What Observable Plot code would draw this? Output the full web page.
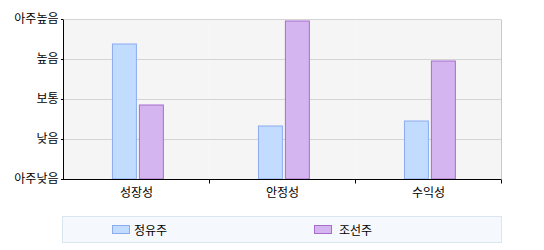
<!DOCTYPE html>
<html>
<head>
<meta charset="utf-8">
<script src="https://cdn.jsdelivr.net/npm/d3@7"></script>
<script src="https://cdn.jsdelivr.net/npm/@observablehq/plot@0.6"></script>
<style>
  html, body { margin: 0; padding: 0; background: #fff; }
  #wrap { position: relative; width: 544px; height: 250px; font-family: "Noto Sans CJK KR", sans-serif; }
  #legend { position: absolute; left: 62px; top: 216px; width: 438px; height: 25px; background: #f5f9fe; border: 1px solid #d9e5ef; }
  .item { position: absolute; top: 0; height: 25px; display: flex; align-items: center; font-size: 12px; color: #000; }
  .sw { width: 16px; height: 7px; margin-right: 4px; }
</style>
</head>
<body>
<div id="wrap"><div id="chart"></div><div id="legend"></div></div>
<script>
const categories = ["성장성", "안정성", "수익성"];
const series = ["정유주", "조선주"];
const levelLabels = ["아주낮음", "낮음", "보통", "높음", "아주높음"];
const oilValues = [3.375, 1.325, 1.45];
const shipValues = [1.85, 3.95, 2.95];
const fills = ["#c2dcff", "#d5b5ef"];
const strokes = ["#8aacef", "#a86ccf"];

const data = [];
categories.forEach((c, i) => {
  data.push({category: c, series: series[0], value: oilValues[i]});
  data.push({category: c, series: series[1], value: shipValues[i]});
});
const levels = levelLabels.map((_, i) => i);

const plot = Plot.plot({
  width: 544,
  height: 210,
  marginLeft: 62,
  marginRight: 43,
  marginTop: 19,
  marginBottom: 31,
  style: {fontFamily: "'Noto Sans CJK KR', sans-serif", fontSize: "12px", color: "#000", background: "transparent"},
  fx: {domain: categories, padding: 0, axis: "bottom", tickSize: 0, tickPadding: 9, label: null},
  x: {domain: series, axis: null, paddingInner: 0.111, paddingOuter: 1.765, align: 0.52, round: false},
  y: {domain: [0, 4], ticks: levels, tickFormat: i => levelLabels[i], tickSize: 2, tickPadding: 3, label: null},
  color: {domain: series, range: fills},
  marks: [
    Plot.frame({fill: "#f5f5f5"}),
    Plot.ruleY(levels, {stroke: "#d4d4d4"}),
    Plot.barY(data, {fx: "category", x: "series", y: "value", fill: "series", stroke: d => strokes[series.indexOf(d.series)]}),
    Plot.ruleY([0], {stroke: "#000"})
  ]
});
document.getElementById("chart").appendChild(plot);

// axis lines and boundary ticks through the scales
const svg = d3.select(plot);
const fx = plot.scale("fx");
const y = plot.scale("y");
const fxApply = fx.apply ? fx.apply : (d3.scaleBand().domain(fx.domain).range(fx.range).padding(0));
const step = fx.step !== undefined ? fx.step : fx.bandwidth;
const y0 = y.apply(0), y4 = y.apply(4);
const left = fxApply(categories[0]);
const right = fxApply(categories[categories.length - 1]) + step;
const g = svg.append("g").attr("transform", "translate(0.5,0.5)");
g.append("line").attr("x1", right).attr("x2", right).attr("y1", y4).attr("y2", y0).attr("stroke", "#c8c8c8");
g.append("line").attr("x1", left).attr("x2", left).attr("y1", y4).attr("y2", y0).attr("stroke", "#000");
categories.forEach((c, i) => {
  if (i > 0) {
    const x = fxApply(c);
    g.append("line").attr("x1", x).attr("x2", x).attr("y1", y0).attr("y2", y0 + 4).attr("stroke", "#000");
  }
});
g.append("line").attr("x1", right).attr("x2", right).attr("y1", y0).attr("y2", y0 + 4).attr("stroke", "#000");

// legend
const legend = document.getElementById("legend");
series.forEach((s, i) => {
  const it = document.createElement("div");
  it.className = "item";
  it.style.left = (49 + 202 * i) + "px";
  const sw = document.createElement("span");
  sw.className = "sw";
  sw.style.background = fills[i];
  sw.style.border = "1px solid " + strokes[i];
  if (i === 1) sw.style.marginRight = "7px";
  const tx = document.createElement("span");
  tx.textContent = s;
  it.appendChild(sw); it.appendChild(tx);
  legend.appendChild(it);
});
</script>
</body>
</html>
